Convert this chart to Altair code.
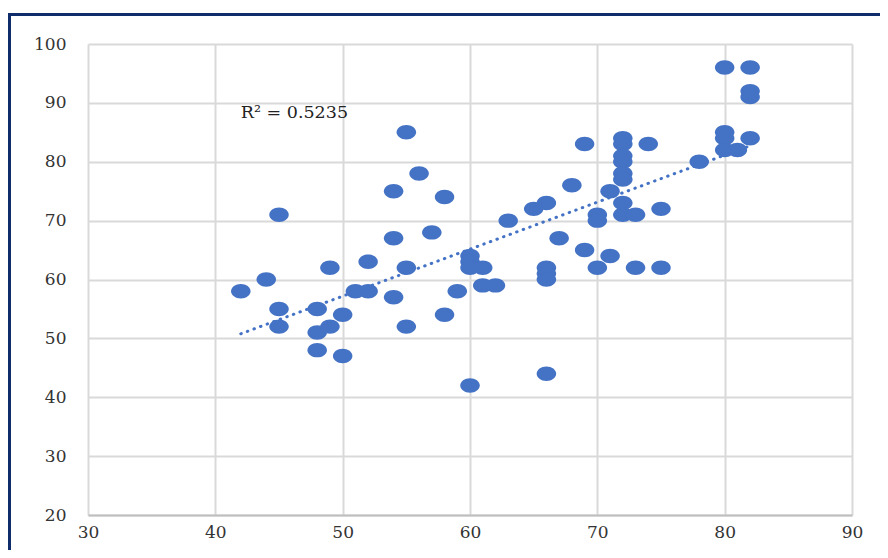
import altair as alt
import pandas as pd

# Scatter values
xs = [42, 44, 45, 45, 45, 48, 48, 48, 49, 49, 50, 50, 51, 52, 52, 54, 54, 54,
      55, 55, 55, 56, 57, 58, 58, 59, 60, 60, 60, 60, 61, 61, 62, 63, 65, 66,
      66, 66, 66, 66, 67, 68, 69, 69, 70, 70, 70, 71, 71, 72, 72, 72, 72, 72,
      72, 72, 72, 73, 73, 74, 75, 75, 78, 80, 80, 80, 80, 81, 82, 82, 82, 82]
ys = [58, 60, 71, 55, 52, 55, 51, 48, 62, 52, 54, 47, 58, 63, 58, 75, 67, 57,
      85, 62, 52, 78, 68, 74, 54, 58, 64, 63, 62, 42, 62, 59, 59, 70, 72, 73,
      62, 61, 60, 44, 67, 76, 83, 65, 71, 70, 62, 75, 64, 84, 83, 81, 80, 78,
      77, 73, 71, 71, 62, 83, 72, 62, 80, 96, 85, 84, 82, 82, 96, 92, 91, 84]

x_ticks = [30, 40, 50, 60, 70, 80, 90]
y_ticks = [20, 30, 40, 50, 60, 70, 80, 90, 100]

r2_label = ["R\u00b2 = 0.5235"]
r2_x = [42.0]
r2_y = [88.3]

df = pd.DataFrame({"x": xs, "y": ys})
ann = pd.DataFrame({"label": r2_label, "x": r2_x, "y": r2_y})

W, H = 764, 471
BLUE = "#4472C4"
FONT = "DejaVu Serif"

xscale = alt.Scale(domain=[30, 90], nice=False, zero=False)
yscale = alt.Scale(domain=[20, 100], nice=False, zero=False)

xaxis = alt.Axis(values=x_ticks, title=None, grid=True, gridColor="#D9D9D9",
                 gridWidth=2, domainColor="#BFBFBF", domainWidth=2, ticks=False,
                 labelPadding=9, labelFont=FONT, labelFontSize=17,
                 labelColor="#333333", labelFlush=False, labelOverlap=False)
yaxis = alt.Axis(values=y_ticks, title=None, grid=True, gridColor="#D9D9D9",
                 gridWidth=2, domain=False, ticks=False, labelPadding=22,
                 labelFont=FONT, labelFontSize=17, labelColor="#333333",
                 labelFlush=False, labelOverlap=False)

# Outer chart frame (decoration only)
frame = alt.Chart(pd.DataFrame({"a": [0]})).mark_rect(
    filled=False, stroke="#0F2D6B", strokeWidth=3
).encode(
    x=alt.value(-78.5), x2=alt.value(W + 200),
    y=alt.value(-29.5), y2=alt.value(H + 200)
)

trend = alt.Chart(df).transform_regression("x", "y").mark_line(
    color=BLUE, strokeWidth=3, strokeDash=[0.5, 6.5], strokeCap="round"
).encode(
    x=alt.X("x:Q", scale=xscale, axis=xaxis),
    y=alt.Y("y:Q", scale=yscale, axis=yaxis),
)

ellipse = "M-1,0 A1,0.74 0 1,1 1,0 A1,0.74 0 1,1 -1,0 Z"
points = alt.Chart(df).mark_point(
    shape=ellipse, filled=True, color=BLUE, opacity=1, size=380
).encode(
    x=alt.X("x:Q", scale=xscale, axis=xaxis),
    y=alt.Y("y:Q", scale=yscale, axis=yaxis),
)

text = alt.Chart(ann).mark_text(
    align="left", baseline="middle", font=FONT, fontSize=17.5, color="#222222"
).encode(
    x=alt.X("x:Q", scale=xscale),
    y=alt.Y("y:Q", scale=yscale),
    text="label:N",
)

chart = alt.layer(frame, trend, points, text).properties(
    width=W, height=H,
    autosize=alt.AutoSizeParams(type="none"),
    padding={"left": 80, "top": 36, "right": 28, "bottom": 35},
    background="white",
).configure_view(stroke=None)

chart.save("out.html", embed_options={"renderer": "svg", "actions": False})
